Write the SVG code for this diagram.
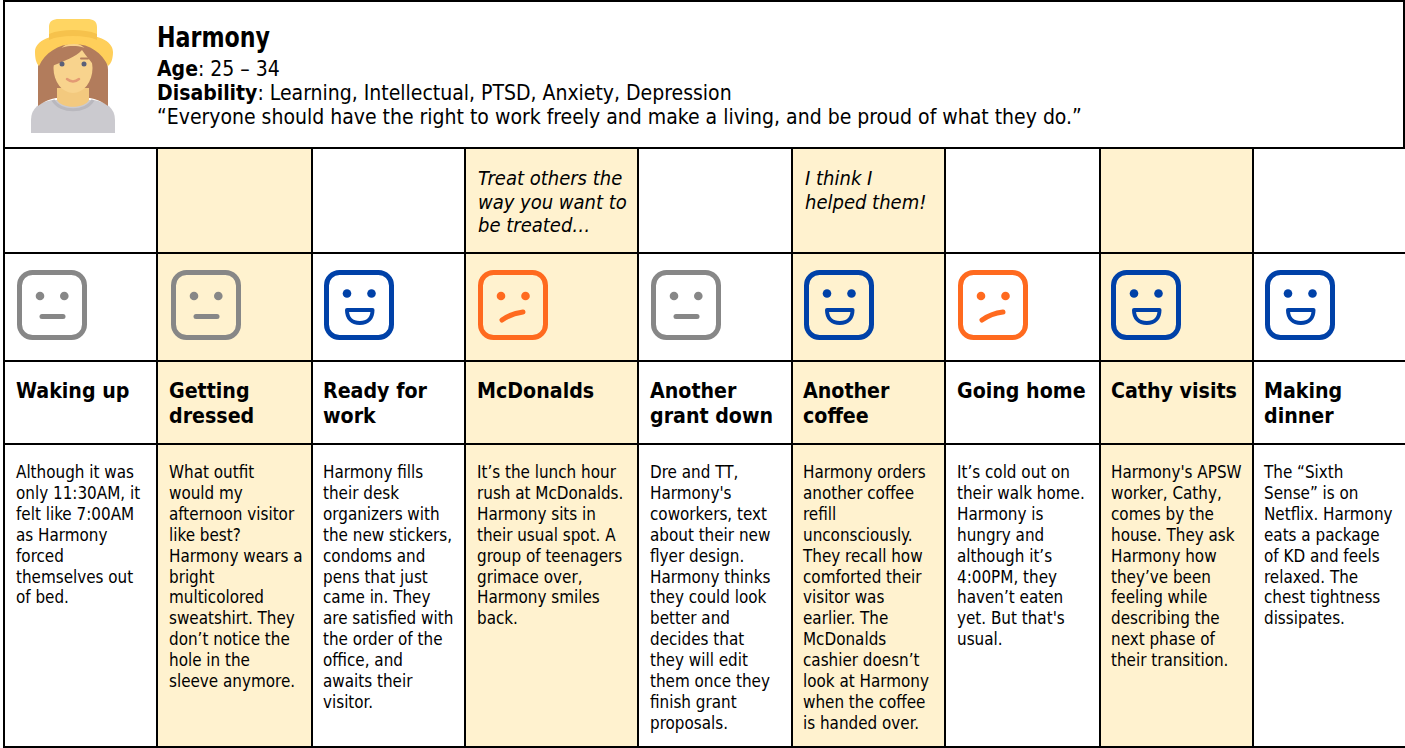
<svg xmlns="http://www.w3.org/2000/svg" xmlns:xlink="http://www.w3.org/1999/xlink" width="1405" height="748" viewBox="0 0 1405 748">
  <style>
    text { font-family: "DejaVu Sans Condensed", "DejaVu Sans", sans-serif; fill: #000; }
    .title { font-size: 28px; font-weight: bold; }
    .meta { font-size: 21px; }
    .meta tspan.b { font-weight: bold; }
    .head { font-size: 21.2px; font-weight: bold; }
    .body { font-size: 16.9px; }
    .quote { font-size: 20px; font-style: italic; }
    .tan { fill: #FFF2CF; }
    .grid { stroke: #000; stroke-width: 2; fill: none; }
    .frame { fill: none; stroke-width: 5; }
    .gray { stroke: #878787; fill: #878787; }
    .blue { stroke: #0041A8; fill: #0041A8; }
    .orange { stroke: #FF6A1F; fill: #FF6A1F; }
  </style>
  <defs>
    <!-- 70x70 mood icons; colour comes from the class on the <use> -->
    <symbol id="face-neutral" viewBox="0 0 70 70" width="70" height="70" overflow="visible">
      <rect class="frame" x="2.5" y="2.5" width="65" height="65" rx="13" fill="none"/>
      <circle cx="23" cy="26" r="4.3" stroke="none"/>
      <circle cx="47.3" cy="26" r="4.3" stroke="none"/>
      <line x1="25" y1="46.5" x2="46" y2="46.5" stroke-width="5" stroke-linecap="round"/>
    </symbol>
    <symbol id="face-happy" viewBox="0 0 70 70" width="70" height="70" overflow="visible">
      <rect class="frame" x="2.5" y="2.5" width="65" height="65" rx="13" fill="none"/>
      <circle cx="23" cy="23.5" r="4.3" stroke="none"/>
      <circle cx="47.5" cy="23.5" r="4.3" stroke="none"/>
      <path d="M23,40 H48.5 C48.5,48.5 43.5,53 35.8,53 C28,53 23,48.5 23,40 Z" fill="none" stroke-width="4" stroke-linejoin="round"/>
    </symbol>
    <symbol id="face-sad" viewBox="0 0 70 70" width="70" height="70" overflow="visible">
      <rect class="frame" x="2.5" y="2.5" width="65" height="65" rx="13" fill="none"/>
      <circle cx="23" cy="26" r="4.3" stroke="none"/>
      <circle cx="47.5" cy="26" r="4.3" stroke="none"/>
      <path d="M24,50 Q33,43.5 45,42" fill="none" stroke-width="5" stroke-linecap="round"/>
    </symbol>
  </defs>

  <rect width="1405" height="748" fill="#fff"/>

  <!-- profile header -->
  <g id="profile">
    <g id="avatar">
      <path d="M31,133 V120 C31,108 40,102 52,100 H94 C106,102 115,108 115,120 V133 Z" fill="#CBCACF"/>
      <path d="M38,106 V70 C38,50 52,39 73,39 C94,39 108,50 108,70 V106 C101,101 96,99 90,98 H56 C50,99 45,101 38,106 Z" fill="#B27C5C"/>
      <path d="M57,88 H89 V100 C85,109 61,109 57,100 Z" fill="#F3C97E"/>
      <path d="M53,100 C60,113 86,113 93,100" fill="none" stroke="#B9B8BE" stroke-width="3"/>
      <ellipse cx="73" cy="68" rx="19.5" ry="25" fill="#F8D38D"/>
      <path d="M52,66 C51,52 58,46 73,46 C88,46 95,52 94,66 C90,60 86,56 82,50 C76,57 64,61 52,66 Z" fill="#B27C5C"/>
      <path d="M35,52 C35,40 52,34 74,34 C96,34 113,40 113,52 C113,59 111,64 108,66 C102,53 90,44 74,44 C58,44 45,53 39,66 C36,63 35,58 35,52 Z" fill="#FFCF5A"/>
      <path d="M49,40 V27 C49,21 53,19 59,19 H87 C93,19 97,21 97,27 V40 C90,37 82,36 73,36 C64,36 56,37 49,40 Z" fill="#FFD562"/>
      <path d="M49,40 V34 C56,31 64,30 73,30 C82,30 90,31 97,34 V40 C90,37 82,36 73,36 C64,36 56,37 49,40 Z" fill="#F6C24C"/>
      <line x1="58" y1="58.5" x2="65" y2="58.5" stroke="#B27C5C" stroke-width="2" stroke-linecap="round"/>
      <line x1="81" y1="58.5" x2="88" y2="58.5" stroke="#B27C5C" stroke-width="2" stroke-linecap="round"/>
      <circle cx="62" cy="64" r="2.5" fill="#5B6079"/>
      <circle cx="84" cy="64" r="2.5" fill="#5B6079"/>
      <path d="M67,79 Q73,84 79,79" fill="none" stroke="#E39A74" stroke-width="2.5" stroke-linecap="round"/>
    </g>
    <text class="title" x="157" y="47" textLength="113" lengthAdjust="spacingAndGlyphs">Harmony</text>
    <text class="meta" x="157" y="76"><tspan class="b">Age</tspan>: 25 – 34</text>
    <text class="meta" x="157" y="100"><tspan class="b">Disability</tspan>: Learning, Intellectual, PTSD, Anxiety, Depression</text>
    <text class="meta" x="157" y="124">“Everyone should have the right to work freely and make a living, and be proud of what they do.”</text>
  </g>

  <!-- shaded columns -->
  <g id="shading">
    <rect class="tan" x="157" y="148" width="155" height="599"/>
    <rect class="tan" x="465" y="148" width="173" height="599"/>
    <rect class="tan" x="792" y="148" width="153" height="599"/>
    <rect class="tan" x="1100" y="148" width="153" height="599"/>
  </g>

  <!-- table rules -->
  <g id="connectors" class="grid">
    <path d="M4,1 H1404 V148"/>
    <path d="M4,0 V747"/>
    <path d="M3,148 H1405 M3,253 H1405 M3,361 H1405 M3,444 H1405 M3,747 H1405"/>
    <path d="M157,148 V747 M312,148 V747 M465,148 V747 M638,148 V747 M792,148 V747 M945,148 V747 M1100,148 V747 M1253,148 V747"/>
  </g>

  <g id="step-waking-up">
    <use href="#face-neutral" class="gray" x="17" y="270"/>
    <text class="head" x="16" y="398">Waking up</text>
    <text class="body" x="16" y="478">
      <tspan x="16" dy="0">Although it was</tspan>
      <tspan x="16" dy="20.9">only 11:30AM, it</tspan>
      <tspan x="16" dy="20.9">felt like 7:00AM</tspan>
      <tspan x="16" dy="20.9">as Harmony</tspan>
      <tspan x="16" dy="20.9">forced</tspan>
      <tspan x="16" dy="20.9">themselves out</tspan>
      <tspan x="16" dy="20.9">of bed.</tspan>
    </text>
  </g>

  <g id="step-getting-dressed">
    <use href="#face-neutral" class="gray" x="171" y="270"/>
    <text class="head" x="169" y="398"><tspan x="169">Getting</tspan><tspan x="169" dy="25">dressed</tspan></text>
    <text class="body" x="169" y="478">
      <tspan x="169" dy="0">What outfit</tspan>
      <tspan x="169" dy="20.9">would my</tspan>
      <tspan x="169" dy="20.9">afternoon visitor</tspan>
      <tspan x="169" dy="20.9">like best?</tspan>
      <tspan x="169" dy="20.9">Harmony wears a</tspan>
      <tspan x="169" dy="20.9">bright</tspan>
      <tspan x="169" dy="20.9">multicolored</tspan>
      <tspan x="169" dy="20.9">sweatshirt. They</tspan>
      <tspan x="169" dy="20.9">don’t notice the</tspan>
      <tspan x="169" dy="20.9">hole in the</tspan>
      <tspan x="169" dy="20.9">sleeve anymore.</tspan>
    </text>
  </g>

  <g id="step-ready-for-work">
    <use href="#face-happy" class="blue" x="324" y="270"/>
    <text class="head" x="323" y="398"><tspan x="323">Ready for</tspan><tspan x="323" dy="25">work</tspan></text>
    <text class="body" x="323" y="478">
      <tspan x="323" dy="0">Harmony fills</tspan>
      <tspan x="323" dy="20.9">their desk</tspan>
      <tspan x="323" dy="20.9">organizers with</tspan>
      <tspan x="323" dy="20.9">the new stickers,</tspan>
      <tspan x="323" dy="20.9">condoms and</tspan>
      <tspan x="323" dy="20.9">pens that just</tspan>
      <tspan x="323" dy="20.9">came in. They</tspan>
      <tspan x="323" dy="20.9">are satisfied with</tspan>
      <tspan x="323" dy="20.9">the order of the</tspan>
      <tspan x="323" dy="20.9">office, and</tspan>
      <tspan x="323" dy="20.9">awaits their</tspan>
      <tspan x="323" dy="20.9">visitor.</tspan>
    </text>
  </g>

  <g id="step-mcdonalds">
    <text class="quote" x="478" y="185"><tspan x="478">Treat others the</tspan><tspan x="478" dy="23.6">way you want to</tspan><tspan x="478" dy="23.6">be treated…</tspan></text>
    <use href="#face-sad" class="orange" x="478" y="270"/>
    <text class="head" x="477" y="398">McDonalds</text>
    <text class="body" x="477" y="478">
      <tspan x="477" dy="0">It’s the lunch hour</tspan>
      <tspan x="477" dy="20.9">rush at McDonalds.</tspan>
      <tspan x="477" dy="20.9">Harmony sits in</tspan>
      <tspan x="477" dy="20.9">their usual spot. A</tspan>
      <tspan x="477" dy="20.9">group of teenagers</tspan>
      <tspan x="477" dy="20.9">grimace over,</tspan>
      <tspan x="477" dy="20.9">Harmony smiles</tspan>
      <tspan x="477" dy="20.9">back.</tspan>
    </text>
  </g>

  <g id="step-another-grant-down">
    <use href="#face-neutral" class="gray" x="651" y="270"/>
    <text class="head" x="650" y="398"><tspan x="650">Another</tspan><tspan x="650" dy="25">grant down</tspan></text>
    <text class="body" x="650" y="478">
      <tspan x="650" dy="0">Dre and TT,</tspan>
      <tspan x="650" dy="20.9">Harmony's</tspan>
      <tspan x="650" dy="20.9">coworkers, text</tspan>
      <tspan x="650" dy="20.9">about their new</tspan>
      <tspan x="650" dy="20.9">flyer design.</tspan>
      <tspan x="650" dy="20.9">Harmony thinks</tspan>
      <tspan x="650" dy="20.9">they could look</tspan>
      <tspan x="650" dy="20.9">better and</tspan>
      <tspan x="650" dy="20.9">decides that</tspan>
      <tspan x="650" dy="20.9">they will edit</tspan>
      <tspan x="650" dy="20.9">them once they</tspan>
      <tspan x="650" dy="20.9">finish grant</tspan>
      <tspan x="650" dy="20.9">proposals.</tspan>
    </text>
  </g>

  <g id="step-another-coffee">
    <text class="quote" x="805" y="185"><tspan x="805">I think I</tspan><tspan x="805" dy="23.6">helped them!</tspan></text>
    <use href="#face-happy" class="blue" x="804" y="270"/>
    <text class="head" x="803" y="398"><tspan x="803">Another</tspan><tspan x="803" dy="25">coffee</tspan></text>
    <text class="body" x="803" y="478">
      <tspan x="803" dy="0">Harmony orders</tspan>
      <tspan x="803" dy="20.9">another coffee</tspan>
      <tspan x="803" dy="20.9">refill</tspan>
      <tspan x="803" dy="20.9">unconsciously.</tspan>
      <tspan x="803" dy="20.9">They recall how</tspan>
      <tspan x="803" dy="20.9">comforted their</tspan>
      <tspan x="803" dy="20.9">visitor was</tspan>
      <tspan x="803" dy="20.9">earlier. The</tspan>
      <tspan x="803" dy="20.9">McDonalds</tspan>
      <tspan x="803" dy="20.9">cashier doesn’t</tspan>
      <tspan x="803" dy="20.9">look at Harmony</tspan>
      <tspan x="803" dy="20.9">when the coffee</tspan>
      <tspan x="803" dy="20.9">is handed over.</tspan>
    </text>
  </g>

  <g id="step-going-home">
    <use href="#face-sad" class="orange" x="958" y="270"/>
    <text class="head" x="957" y="398">Going home</text>
    <text class="body" x="957" y="478">
      <tspan x="957" dy="0">It’s cold out on</tspan>
      <tspan x="957" dy="20.9">their walk home.</tspan>
      <tspan x="957" dy="20.9">Harmony is</tspan>
      <tspan x="957" dy="20.9">hungry and</tspan>
      <tspan x="957" dy="20.9">although it’s</tspan>
      <tspan x="957" dy="20.9">4:00PM, they</tspan>
      <tspan x="957" dy="20.9">haven’t eaten</tspan>
      <tspan x="957" dy="20.9">yet. But that's</tspan>
      <tspan x="957" dy="20.9">usual.</tspan>
    </text>
  </g>

  <g id="step-cathy-visits">
    <use href="#face-happy" class="blue" x="1111" y="270"/>
    <text class="head" x="1111" y="398">Cathy visits</text>
    <text class="body" x="1111" y="478">
      <tspan x="1111" dy="0">Harmony's APSW</tspan>
      <tspan x="1111" dy="20.9">worker, Cathy,</tspan>
      <tspan x="1111" dy="20.9">comes by the</tspan>
      <tspan x="1111" dy="20.9">house. They ask</tspan>
      <tspan x="1111" dy="20.9">Harmony how</tspan>
      <tspan x="1111" dy="20.9">they’ve been</tspan>
      <tspan x="1111" dy="20.9">feeling while</tspan>
      <tspan x="1111" dy="20.9">describing the</tspan>
      <tspan x="1111" dy="20.9">next phase of</tspan>
      <tspan x="1111" dy="20.9">their transition.</tspan>
    </text>
  </g>

  <g id="step-making-dinner">
    <use href="#face-happy" class="blue" x="1265" y="270"/>
    <text class="head" x="1264" y="398"><tspan x="1264">Making</tspan><tspan x="1264" dy="25">dinner</tspan></text>
    <text class="body" x="1264" y="478">
      <tspan x="1264" dy="0">The “Sixth</tspan>
      <tspan x="1264" dy="20.9">Sense” is on</tspan>
      <tspan x="1264" dy="20.9">Netflix. Harmony</tspan>
      <tspan x="1264" dy="20.9">eats a package</tspan>
      <tspan x="1264" dy="20.9">of KD and feels</tspan>
      <tspan x="1264" dy="20.9">relaxed. The</tspan>
      <tspan x="1264" dy="20.9">chest tightness</tspan>
      <tspan x="1264" dy="20.9">dissipates.</tspan>
    </text>
  </g>
</svg>
